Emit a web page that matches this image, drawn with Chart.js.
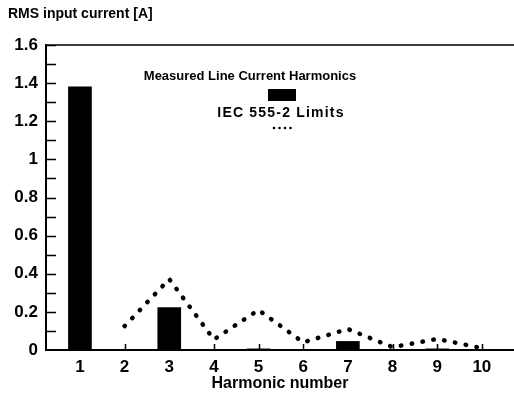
<!DOCTYPE html>
<html lang="en">
<head>
    <meta charset="UTF-8">
    <title>Line current harmonics</title>
    <script src="https://cdn.jsdelivr.net/npm/chart.js"></script>
    <style>
        html, body { margin: 0; padding: 0; background: #fff; }
        #wrap { width: 514px; height: 400px; }
    </style>
</head>
<body>
    <div id="wrap"><canvas id="harmonicsChart"></canvas></div>
    <script>
        // Harmonic orders and RMS currents [A]
        const harmonics = [1, 2, 3, 4, 5, 6, 7, 8, 9, 10];
        const measured = [1.38, 0, 0.222, 0, 0.006, 0, 0.045, 0, 0.006, 0];
        const iecLimits = [null, 0.125, 0.372, 0.055, 0.21, 0.04, 0.11, 0.015, 0.058, 0.01];
        const yTickLabels = ['0', '0.2', '0.4', '0.6', '0.8', '1', '1.2', '1.4', '1.6'];

        const FONT = '"Liberation Sans", Arial, sans-serif';

        // inward tick marks, top frame line and the stacked legend
        const framePlugin = {
            id: 'frame',
            afterDatasetsDraw(chart) {
                const { ctx, chartArea: a, scales: { x, y } } = chart;
                ctx.save();
                ctx.strokeStyle = '#000';
                ctx.lineWidth = 1.5;
                ctx.beginPath();
                ctx.moveTo(a.left, a.top);
                ctx.lineTo(a.right, a.top);
                for (let v = 1; v <= 16; v++) {
                    const py = Math.round(y.getPixelForValue(v / 10)) + 0.5;
                    ctx.moveTo(a.left, py);
                    ctx.lineTo(a.left + 10, py);
                }
                harmonics.forEach(h => {
                    const px = Math.round(x.getPixelForValue(h)) + 0.5;
                    ctx.moveTo(px, a.bottom);
                    ctx.lineTo(px, a.bottom - 6);
                });
                ctx.stroke();

                // legend: label above its sample
                const [bars, limits] = chart.data.datasets;
                ctx.fillStyle = '#000';
                ctx.textAlign = 'center';
                ctx.textBaseline = 'middle';
                ctx.font = 'bold 13px ' + FONT;
                ctx.fillText(bars.label, 250, 76);
                ctx.fillRect(268, 89, 28, 12);
                ctx.font = 'bold 14px ' + FONT;
                ctx.letterSpacing = '1.2px';
                ctx.fillText(limits.label, 281, 113);
                ctx.letterSpacing = '0px';
                for (let i = 0; i < 4; i++) {
                    ctx.beginPath();
                    ctx.arc(274 + i * 5.5, 128, 1.3, 0, Math.PI * 2);
                    ctx.fill();
                }
                ctx.restore();
            }
        };

        new Chart(document.getElementById('harmonicsChart'), {
            data: {
                labels: harmonics,
                datasets: [{
                    type: 'bar',
                    label: 'Measured Line Current Harmonics',
                    data: measured,
                    backgroundColor: '#000',
                    barThickness: 23,
                    order: 2
                }, {
                    type: 'line',
                    label: 'IEC 555-2 Limits',
                    data: iecLimits,
                    borderColor: '#000',
                    borderWidth: 4.5,
                    borderDash: [0.5, 10.5],
                    borderCapStyle: 'round',
                    tension: 0,
                    pointRadius: 0,
                    fill: false,
                    order: 1
                }]
            },
            options: {
                responsive: true,
                maintainAspectRatio: false,
                animation: false,
                layout: { padding: { left: 8, right: 0, top: 0, bottom: 0 } },
                plugins: {
                    legend: { display: false },
                    tooltip: { enabled: false },
                    title: {
                        display: true,
                        text: 'RMS input current [A]',
                        align: 'start',
                        color: '#000',
                        font: { family: FONT, size: 14, weight: 'bold' },
                        padding: { top: 5.6, bottom: 22.6 }
                    }
                },
                scales: {
                    x: {
                        type: 'linear',
                        offset: false,
                        min: 0.24,
                        max: 10.72,
                        afterBuildTicks: s => { s.ticks = harmonics.map(v => ({ value: v })); },
                        afterFit: s => { s.height = 50; },
                        grid: { display: true, offset: false, drawOnChartArea: false, drawTicks: false },
                        border: { color: '#000', width: 2 },
                        ticks: {
                            color: '#000',
                            padding: 7,
                            font: { family: FONT, size: 17, weight: 'bold' }
                        },
                        title: {
                            display: true,
                            text: 'Harmonic number',
                            color: '#000',
                            padding: { top: 0, bottom: 7 },
                            font: { family: FONT, size: 16, weight: 'bold' }
                        }
                    },
                    y: {
                        min: 0,
                        max: 1.6,
                        afterBuildTicks: s => {
                            s.ticks = yTickLabels.map(t => ({ value: parseFloat(t), label: t }));
                        },
                        afterFit: s => { s.width = 38; },
                        grid: { display: true, drawOnChartArea: false, drawTicks: false },
                        border: { color: '#000', width: 2 },
                        ticks: {
                            color: '#000',
                            padding: 8,
                            callback: (v, i) => yTickLabels[i],
                            font: { family: FONT, size: 17, weight: 'bold' }
                        }
                    }
                }
            },
            plugins: [framePlugin]
        });
    </script>
</body>
</html>
